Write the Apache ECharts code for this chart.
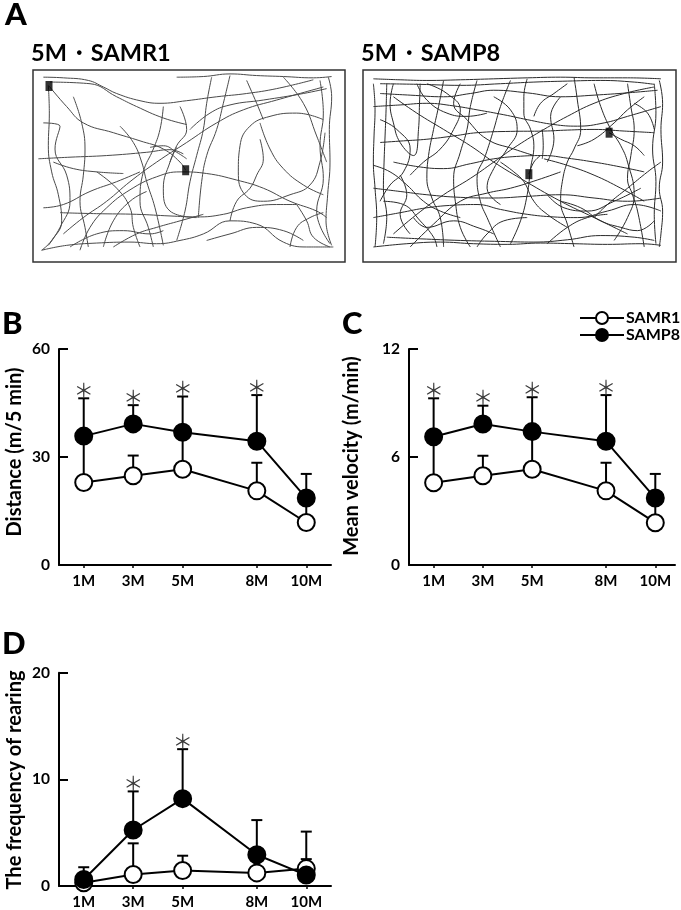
<!DOCTYPE html>
<html><head><meta charset="utf-8">
<script src="https://cdn.jsdelivr.net/npm/echarts@6/dist/echarts.min.js"></script>
<style>html,body{margin:0;padding:0;background:#fff}#c{width:681px;height:910px}</style>
</head><body><div id="c"></div>
<script>
// ---------- data ----------
const months = [1, 3, 5, 8, 10];
const monthLabels = ['1M', '3M', '5M', '8M', '10M'];

// B: Distance (m/5 min)
const distR1 = [22.9, 24.8, 26.6, 20.6, 11.8];
const distR1Err = [12.5, 5.6, 10.0, 7.8, 6.5];
const distP8 = [35.8, 39.2, 36.9, 34.4, 18.6];
const distP8Err = [10.5, 5.2, 9.9, 12.8, 6.7];
const distSig = [1, 1, 1, 1, 0];

// C: Mean velocity (m/min)
const velR1 = [4.57, 4.96, 5.32, 4.12, 2.35];
const velR1Err = [2.5, 1.11, 2.0, 1.56, 1.3];
const velP8 = [7.13, 7.83, 7.41, 6.87, 3.72];
const velP8Err = [2.13, 1.02, 1.91, 2.57, 1.34];
const velSig = [1, 1, 1, 1, 0];

// D: The frequency of rearing
const rearR1 = [0.3, 1.08, 1.45, 1.23, 1.63];
const rearR1Err = [0.6, 2.92, 1.39, 1.5, 3.47];
const rearP8 = [0.61, 5.25, 8.19, 2.93, 1.02];
const rearP8Err = [1.15, 3.62, 4.64, 3.25, 1.5];
const rearSig = [0, 1, 1, 0, 0];

// A: open-field tracks (camera pixel coordinates), SAMR1 and SAMP8 at 5M
const trackR1 = [
  [[40,40],[100,42],[175,50],[220,70],[260,90],[330,112],[390,120],[470,112],[560,100],[650,90],[740,75],[850,48]],
  [[60,55],[180,60],[260,100],[320,130],[400,165],[470,185]],
  [[440,40],[520,38],[600,30],[680,35],[760,38],[850,42],[905,38]],
  [[895,40],[905,100],[898,200],[900,300],[893,400],[888,480],[905,555]],
  [[870,50],[880,150],[870,250],[880,350],[860,450],[900,550]],
  [[35,570],[110,555],[200,548],[300,545],[380,550],[450,540],[520,520],[600,480],[680,490],[760,545],[830,560],[910,560]],
  [[120,560],[200,520],[280,510],[360,520],[400,510]],
  [[55,65],[58,150],[55,250],[65,330],[85,400],[95,480],[65,540],[35,570]],
  [[40,180],[90,190],[75,260],[110,340],[120,420],[90,500],[55,555]],
  [[25,290],[120,285],[230,280],[350,270],[420,262],[460,275]],
  [[90,455],[200,458],[320,460],[420,465],[500,468],[580,460],[650,440],[740,430],[800,430]],
  [[150,570],[180,500],[230,440],[300,385],[380,345],[450,330],[530,335],[620,355],[700,380],[780,420],[860,450],[890,470]],
  [[57,67],[110,130],[160,180],[250,210],[330,235],[400,260],[450,300],[467,325]],
  [[880,170],[800,150],[720,160],[660,190],[630,250],[625,330],[645,400],[700,420],[780,400],[840,370],[870,300],[885,210]],
  [[400,130],[390,200],[370,260],[340,330],[330,420],[355,500],[370,560]],
  [[545,40],[530,120],[520,200],[500,280],[480,360],[465,450],[440,540]],
  [[600,35],[580,120],[560,200],[530,280],[515,360],[505,470]],
  [[270,190],[310,240],[335,300],[350,360],[375,440],[400,555]],
  [[130,100],[155,180],[165,260],[160,340],[150,420],[165,500],[175,560]],
  [[100,520],[160,470],[230,420],[300,360],[380,300],[470,240],[560,180],[640,140],[740,110],[880,70]],
  [[480,200],[540,150],[600,125],[700,110],[820,90],[890,75]],
  [[690,180],[720,260],[760,320],[820,370],[880,400]],
  [[650,50],[680,120],[700,170]],
  [[760,40],[820,120],[860,220],[890,300]],
  [[220,560],[250,480],[300,420],[350,390]],
  [[600,480],[620,420],[660,380],[680,340],[700,290],[690,230]],
  [[440,255],[420,300],[400,380],[420,450],[500,470]],
  [[360,255],[400,250],[440,270],[470,290]],
  [[40,440],[100,430],[180,390],[260,360],[330,330]],
  [[250,560],[320,520],[380,500],[450,480],[520,460]],
  [[800,430],[830,480],[850,530],[900,560]],
  [[530,540],[600,520],[680,500],[760,510],[820,540]],
  [[200,330],[260,380],[300,440],[310,500],[330,560]],
  [[70,300],[130,320],[200,330],[280,335]],
  [[450,130],[470,200],[440,250],[420,300]],
  [[780,560],[800,500],[840,470],[880,455]]
];
const markR1 = [[57,67],[467,325]];

const trackP8 = [
  [[40,45],[120,48],[200,50],[300,48],[400,45],[500,42],[600,40],[700,42],[800,42],[900,45]],
  [[60,60],[180,62],[300,65],[420,60],[520,55],[620,52],[720,50],[820,55],[880,62]],
  [[895,50],[905,120],[900,200],[905,300],[895,380],[905,450],[900,520],[895,560]],
  [[880,60],[885,150],[875,260],[885,360],[880,460],[885,550]],
  [[40,560],[140,550],[240,545],[340,550],[440,552],[540,548],[640,550],[740,552],[840,550],[900,555]],
  [[80,530],[180,535],[300,540],[420,543],[520,545],[620,538],[720,525],[820,530],[880,540]],
  [[40,60],[45,140],[42,220],[40,300],[45,380],[50,470],[45,560]],
  [[80,60],[78,140],[75,220],[72,300],[70,380],[80,470],[70,550]],
  [[100,60],[90,120],[100,180],[120,240],[160,280],[175,200],[178,120],[180,60]],
  [[40,130],[120,125],[200,120],[280,128],[350,140],[430,155],[500,170],[580,185],[650,190],[730,180],[800,160],[900,130]],
  [[60,90],[150,95],[250,100],[330,90],[400,80],[500,88],[600,100],[700,95],[800,88],[890,80]],
  [[40,380],[120,390],[200,400],[300,408],[400,410],[500,405],[600,400],[700,410],[800,420],[900,410]],
  [[100,300],[180,315],[250,320],[330,305],[400,290],[480,282],[550,280],[620,288],[700,300],[780,315],[850,330]],
  [[40,470],[120,455],[200,440],[280,432],[350,430],[420,445],[500,460],[580,468],[650,470],[740,450],[820,430],[900,450]],
  [[60,240],[130,235],[200,230],[280,220],[350,210],[450,206],[550,205],[620,202],[700,200],[790,205],[880,210]],
  [[350,50],[330,130],[320,200],[300,270],[280,350],[285,420],[300,500],[330,560]],
  [[500,45],[490,100],[490,150],[510,200],[520,250],[510,320],[500,400],[480,480],[450,550]],
  [[450,50],[420,130],[400,200],[375,280],[350,350],[360,420],[380,470],[420,560]],
  [[640,40],[650,110],[660,200],[640,260],[620,300],[605,360],[600,420],[620,490],[640,560]],
  [[250,50],[235,130],[220,200],[205,280],[200,350],[215,410],[240,470],[250,560]],
  [[800,60],[810,130],[820,200],[810,280],[800,350],[815,400],[830,450],[850,560]],
  [[700,60],[720,130],[750,200],[780,250],[800,300],[820,400],[800,470],[760,540]],
  [[100,520],[170,460],[250,400],[330,350],[400,300],[470,250],[550,200],[620,160],[700,120],[790,90],[880,70]],
  [[100,100],[170,150],[250,200],[330,250],[400,300],[480,350],[600,420],[700,470],[800,520]],
  [[150,560],[220,490],[300,420],[380,395],[450,380],[530,355],[600,330]],
  [[550,290],[620,310],[700,340],[780,380],[850,420]],
  [[545,200],[548,250],[545,290]],
  [[120,340],[140,400],[120,460],[150,520]],
  [[160,470],[200,500],[280,480],[350,500],[400,520]],
  [[600,100],[570,160],[580,230],[560,300]],
  [[300,60],[280,120],[320,170],[380,230],[460,260],[520,280]],
  [[40,310],[90,330],[140,370],[190,420],[240,450],[300,470]],
  [[700,470],[740,430],[800,380],[860,330],[900,300]],
  [[560,550],[620,500],[680,470],[740,460]],
  [[820,120],[860,150],[880,200]],
  [[745,210],[780,230],[820,250],[850,280]],
  [[505,337],[520,300],[540,280]],
  [[350,560],[380,520],[430,480],[500,470]],
  [[170,60],[200,110],[260,150],[320,160],[380,150]],
  [[420,300],[460,330],[490,360],[520,420],[560,460],[620,500]],
  [[60,170],[110,200],[150,260],[130,330],[90,370],[60,420]],
  [[200,60],[260,90],[300,140],[280,200],[240,260],[190,300],[150,340]],
  [[400,100],[450,140],[470,200],[440,260],[400,320],[380,380],[420,430]],
  [[850,100],[800,140],[760,180],[700,230],[650,250]],
  [[880,480],[830,510],[780,500],[720,480],[660,440],[600,420]],
  [[70,420],[130,430],[180,480],[220,530],[230,560]],
  [[560,400],[610,440],[680,450],[760,420],[840,380]],
  [[620,60],[580,90],[540,120],[520,160]]
];
const markP8 = [[745,210],[505,337]];

// ---------- chart ----------
const FONT = 'Lato';
const chart = echarts.init(document.getElementById('c'), null, {renderer: 'canvas'});

function trackAxes(idx) {
  return {
    x: {gridIndex: idx, type: 'value', min: 9, max: 945, show: false},
    y: {gridIndex: idx, type: 'value', min: 18, max: 606, inverse: true, show: false}
  };
}
function dataAxes(idx, maxY, interval, xMax) {
  return {
    x: {gridIndex: idx, type: 'value', min: 0, max: xMax,
        axisLine: {lineStyle: {color: '#000', width: 2}},
        axisTick: {show: true, customValues: months, length: 3, lineStyle: {color: '#000', width: 1.5}},
        axisLabel: {customValues: months, formatter: v => monthLabels[months.indexOf(v)],
                    fontFamily: FONT, fontWeight: 'bold', fontSize: 15, color: '#000', margin: 9},
        splitLine: {show: false}},
    y: {gridIndex: idx, type: 'value', min: 0, max: maxY, interval: interval,
        axisLine: {show: true, lineStyle: {color: '#000', width: 2}},
        axisTick: {show: true, inside: true, length: 9, lineStyle: {color: '#000', width: 2}},
        axisLabel: {fontFamily: FONT, fontWeight: 'bold', fontSize: 15.5, color: '#000', margin: 9},
        splitLine: {show: false}}
  };
}
const axA1 = trackAxes(0), axA2 = trackAxes(1);
const axB = dataAxes(2, 60, 30, 11), axC = dataAxes(3, 12, 6, 10.8), axD = dataAxes(4, 20, 10, 11);

function trackSeries(tracks, gi, color) {
  return tracks.map(t => ({
    type: 'line', xAxisIndex: gi, yAxisIndex: gi, data: t, smooth: 0.45,
    showSymbol: false, symbol: 'none', silent: true, animation: false,
    lineStyle: {color: color, width: 1}
  }));
}
function markSeries(marks, gi) {
  return {type: 'scatter', xAxisIndex: gi, yAxisIndex: gi, data: marks, symbol: 'rect',
          symbolSize: [7, 10], itemStyle: {color: '#000'}, silent: true, animation: false, z: 5};
}
function errSeries(gi, means, errs, sig) {
  return {
    type: 'custom', xAxisIndex: gi, yAxisIndex: gi, z: 2, silent: true, animation: false,
    data: months.map((m, i) => [m, means[i], means[i] + errs[i], sig ? sig[i] : 0]),
    renderItem: function (params, api) {
      const x = api.value(0);
      const lo = api.coord([x, api.value(1)]);
      const hi = api.coord([x, api.value(2)]);
      const ch = [
        {type: 'line', shape: {x1: lo[0], y1: lo[1], x2: hi[0], y2: hi[1]}, style: {stroke: '#000', lineWidth: 2}},
        {type: 'line', shape: {x1: hi[0] - 5.5, y1: hi[1], x2: hi[0] + 5.5, y2: hi[1]}, style: {stroke: '#000', lineWidth: 2}}
      ];
      if (api.value(3)) {
        ch.push({type: 'text', x: hi[0], y: hi[1] - 8,
          style: {text: '＊', fontSize: 20, fill: '#3a3a3a', align: 'center', verticalAlign: 'middle',
                  fontFamily: 'Noto Sans CJK JP'}});
      }
      return {type: 'group', children: ch};
    }
  };
}
function meanSeries(name, gi, vals, filled, z) {
  return {
    type: 'line', name: name, xAxisIndex: gi, yAxisIndex: gi, z: z, animation: false,
    data: months.map((m, i) => [m, vals[i]]),
    symbol: 'circle', symbolSize: 17, showSymbol: true,
    lineStyle: {color: '#000', width: 2},
    itemStyle: {color: filled ? '#000' : '#fff', borderColor: '#000', borderWidth: 2},
    emphasis: {disabled: true}
  };
}
function panelSeries(gi, r1, r1e, p8, p8e, sig) {
  return [
    errSeries(gi, r1, r1e, null),
    errSeries(gi, p8, p8e, sig),
    meanSeries('SAMR1', gi, r1, false, 3),
    meanSeries('SAMP8', gi, p8, true, 4)
  ];
}

function txt(text, x, y, size, weight) {
  return {type: 'text', x: x, y: y, silent: true,
    style: {text: text, fontFamily: FONT, fontWeight: weight || 'bold', fontSize: size, fill: '#000',
            align: 'left', verticalAlign: 'middle'}};
}
function vtxt(text, cx, cy, size) {
  return {type: 'text', x: cx, y: cy, rotation: Math.PI / 2, silent: true,
    style: {text: text, fontFamily: FONT, fontWeight: 'bold', fontSize: size, fill: '#000',
            align: 'center', verticalAlign: 'middle'}};
}

const option = {
  backgroundColor: '#fff',
  animation: false,
  grid: [
    {left: 33, top: 70, width: 312, height: 192, show: true, borderColor: '#333', borderWidth: 1.5, backgroundColor: 'transparent'},
    {left: 363, top: 70, width: 313, height: 192, show: true, borderColor: '#333', borderWidth: 1.5, backgroundColor: 'transparent'},
    {left: 59, top: 349, width: 272, height: 216},
    {left: 409, top: 349, width: 266, height: 216},
    {left: 59, top: 672.7, width: 272, height: 215.6}
  ],
  xAxis: [axA1.x, axA2.x, axB.x, axC.x, axD.x],
  yAxis: [axA1.y, axA2.y, axB.y, axC.y, axD.y],
  legend: {
    data: ['SAMR1', 'SAMP8'], orient: 'vertical', left: 574, top: 305,
    itemWidth: 44, itemHeight: 15, itemGap: 1, selectedMode: false,
    textStyle: {fontFamily: FONT, fontWeight: 'bold', fontSize: 16, color: '#000', padding: [0, 0, 0, -3]}
  },
  series: [].concat(
    trackSeries(trackR1, 0, '#4a4a4a'),
    [markSeries(markR1, 0)],
    trackSeries(trackP8, 1, '#2a2a2a'),
    [markSeries(markP8, 1)],
    panelSeries(2, distR1, distR1Err, distP8, distP8Err, distSig),
    panelSeries(3, velR1, velR1Err, velP8, velP8Err, velSig),
    panelSeries(4, rearR1, rearR1Err, rearP8, rearP8Err, rearSig)
  ),
  graphic: [
    txt('A', 5, 15, 31, 900),
    txt('5M・SAMR1', 31, 53, 23.5),
    txt('5M・SAMP8', 361, 53, 23.5),
    txt('B', 2, 324, 31, 900),
    txt('C', 342, 324, 31, 900),
    txt('D', 2, 644, 31, 900),
    vtxt('Distance (m/5 min)', 15, 452, 20),
    vtxt('Mean velocity (m/min)', 352, 456, 20),
    vtxt('The frequency of rearing', 15, 780, 20)
  ]
};
chart.setOption(option);
</script>
</body></html>
